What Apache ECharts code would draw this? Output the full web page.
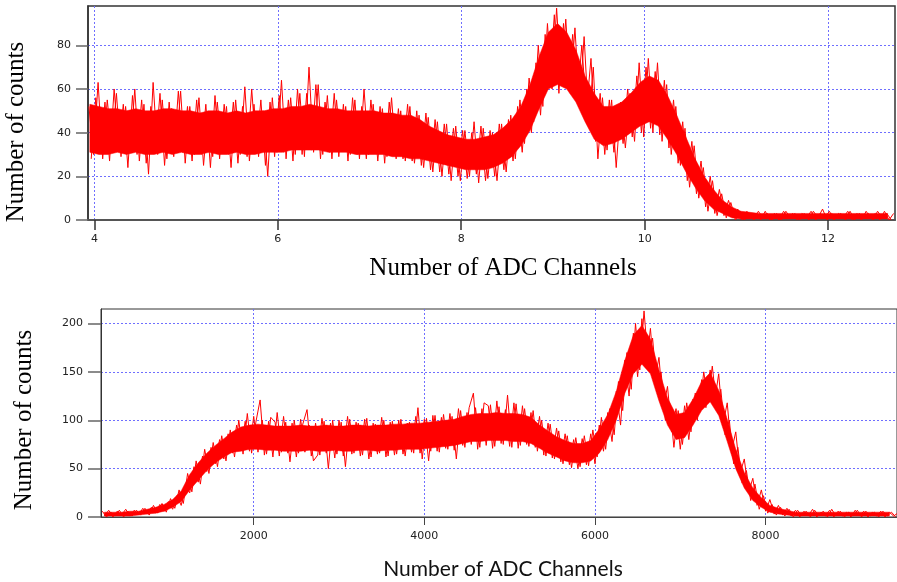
<!DOCTYPE html>
<html>
<head>
<meta charset="utf-8">
<script src="https://cdn.jsdelivr.net/npm/echarts@6/dist/echarts.min.js"></script>
<style>html,body{margin:0;padding:0;background:#fff}#c{width:897px;height:582px}</style>
</head>
<body>
<div id="c"></div>
<script>
// ---------- Top panel data (x in ADC channel units) ----------
const topXTicks = [4, 6, 8, 10, 12];
const topYTicks = [0, 20, 40, 60, 80];
// dense core of the spectrum (x = 3.95 + 0.1*i)
const topBandStart = 3.95, topBandStep = 0.1;
const topCoreLow = [31,30,30,31,30, 31,30,30,31,30, 31,30,30,31,30, 30,31,30,30,31,
  31,31,32,32,32, 32,31,31,31,30, 30,30,30,29,29, 28,28,27,26,25,
  24,23,23,23,24, 26,29,34,41,51, 60,62,60,54,45, 37,34,35,37,40,
  43,45,43,37,30, 22,15,9,5,3, 1,
  0.5,0.5,0.5,0.5,0.5,0.5,0.5,0.5,0.5,0.5,0.5,0.5,0.5,0.5,0.5,0.5,0.5];
const topCoreHigh = [53,52,51,51,50, 51,50,50,51,51, 50,50,49,50,50, 49,50,49,50,50,
  51,51,52,52,53, 52,51,51,50,50, 50,50,49,49,48, 48,46,43,41,39,
  38,37,37,38,39, 42,46,52,62,75, 86,90,86,78,66, 58,52,52,54,58,
  63,66,64,57,48, 38,28,20,14,9, 6,
  4,3.5,3,3,3,3,3,3,3,3,3,3,3,3,3,3,3];
// individual channel counts, even channels (x = 3.94 + 0.05*i)
const topSpikeStart = 3.94, topSpikeStep = 0.05;
const topCounts = [
  52,30,63,28,55,34,58,29,52,31,
  60,27,53,21,63,30,55,28,51,33,
  59,26,52,30,56,25,50,29,54,31,
  52,24,55,30,61,27,53,29,50,20,
  56,31,64,28,56,30,58,29,70,31,
  62,30,57,28,55,32,52,30,55,28,
  60,30,53,27,51,29,56,28,50,27,
  52,26,48,24,47,22,45,20,44,18,
  43,18,41,20,45,17,42,19,40,18,
  44,22,48,28,55,35,65,45,80,52,
  90,60,97,62,92,58,88,52,84,45,
  70,28,56,32,55,24,54,33,58,36,
  72,38,74,40,72,36,62,30,52,25,
  42,15,34,10,24,4,18,2,12,1,
  8,0,4,0,3,0,4,1,3,0,
  3,0,4,1,3,0,3,0,4,1,
  5,0,3,1,3,0,4,0,3,1,
  3,0,4,1,3,0];
// individual channel counts, odd channels (x = 3.965 + 0.05*i)
const topSpike2Start = 3.965;
const topCounts2 = [
  28,56,31,54,27,60,33,53,24,57,
  30,55,26,52,31,58,25,54,29,59,
  31,52,27,55,30,53,24,57,28,53,
  30,54,26,52,29,60,31,55,25,54,
  29,57,31,55,27,60,30,58,32,62,
  28,54,31,58,29,53,27,56,30,52,
  28,55,31,52,26,54,30,51,28,53,
  27,50,25,49,23,46,22,44,21,42,
  20,41,19,40,21,43,18,41,20,44,
  23,46,27,52,31,60,40,72,48,85,
  62,94,58,90,60,85,55,80,50,74,
  36,58,30,55,31,53,35,60,38,66,
  40,70,42,68,39,64,33,55,26,45,
  18,36,12,27,6,20,3,14,2,9,
  1,5,0,4,1,3,0,4,0,3,
  0,4,1,3,0,3,1,4,0,3,
  1,4,0,3,1,4,0,3,0,4,
  1,3,0,4,0,3];

// ---------- Bottom panel data (x in ADC channels) ----------
const botXTicks = [2000, 4000, 6000, 8000];
const botYTicks = [0, 50, 100, 150, 200];
const botBandStart = 250, botBandStep = 100;
const botCoreLow = [1,1,1,1,2,3,4,6,10,16,
  28,38,48,56,62,67,68,70,70,69,
  69,68,68,68,69,68,68,69,68,68,69,69,68,69,69,70,70,70,
  71,72,73,74,76,78,
  78,79,79,79,78,78,
  76,71,66,62,58,56,56,58,
  66,80,100,128,148,158,148,120,95,80,
  82,95,110,119,105,78,50,30,17,10,
  5,3,2,
  1,1,1,1,1,1,1,1,1,1,1,1];
const botCoreHigh = [5,5,5,6,6,8,10,13,18,27,
  44,56,66,74,81,88,93,95,96,95,
  94,94,94,95,94,94,95,94,94,95,95,94,95,95,96,96,97,97,
  98,99,100,101,104,106,
  107,107,108,107,107,106,
  103,95,89,83,79,76,76,79,
  91,106,130,162,188,198,184,152,123,106,
  108,122,140,149,131,101,70,46,30,20,
  12,9,7,
  5,5,5,5,5,5,5,5,5,5,5,5];
const botSpikeStart = 225, botSpikeStep = 50;
const botCounts = [
  6,0,5,1,7,0,6,1,7,2,
  9,2,12,4,14,5,19,9,28,14,
  45,26,58,34,70,45,77,52,84,58,
  90,62,100,65,107,66,98,121,64,99,
  62,108,67,98,57,100,66,96,111,63,
  97,64,99,50,100,65,98,52,101,66,
  97,64,102,62,96,66,100,63,99,65,
  101,63,98,66,113,60,102,68,105,67,
  106,70,104,60,110,72,113,128,70,112,
  74,116,73,114,75,126,72,117,74,112,
  73,110,68,100,63,96,60,89,55,84,
  51,82,52,84,53,90,62,103,70,112,
  85,140,110,170,132,200,152,213,158,185,
  135,150,100,118,72,110,75,118,88,128,
  110,150,120,156,115,132,85,100,55,72,
  35,48,17,34,8,22,4,13,2,10,
  1,8,0,7,1,6,0,7,1,6,
  0,8,1,6,0,5,1,7,0,6,
  1,5,0,6,1,5,0];
const botSpike2Start = 250;
const botCounts2 = [
  1,7,0,6,2,8,1,7,2,9,
  3,10,4,13,6,16,8,22,12,33,
  25,52,36,63,47,72,55,80,60,86,
  66,95,69,99,68,104,67,100,65,103,
  98,63,104,66,97,62,101,67,95,58,
  64,102,66,97,61,100,63,104,65,98,
  63,101,60,97,65,103,62,98,64,100,
  65,97,67,104,66,101,58,105,68,103,
  71,107,69,112,74,108,75,113,72,118,
  115,71,120,76,111,73,118,71,115,75,
  108,72,104,64,97,61,92,57,86,54,
  80,50,81,54,86,55,95,68,108,78,
  130,95,162,125,190,145,205,155,195,140,
  165,112,135,88,112,70,115,80,122,100,
  142,113,152,118,148,95,118,68,88,45,
  60,25,40,12,28,6,18,3,12,2,
  9,1,7,0,6,1,8,0,5,1,
  7,0,6,1,5,0,7,1,6,0,
  5,1,6,0,5,1,4];

function pairs(start, step, vals) {
  return vals.map((v, i) => [+(start + step * i).toFixed(4), v]);
}
function bandSeries(xi, yi, start, step, lo, hi) {
  const n = Math.min(lo.length, hi.length);
  const data = [];
  for (let i = 0; i < n; i++) data.push([+(start + step * i).toFixed(4), lo[i], hi[i]]);
  return {
    type: 'custom', xAxisIndex: xi, yAxisIndex: yi, data: data, silent: true,
    encode: { x: 0, y: [1, 2] }, z: 2, animation: false,
    renderItem: function (params, api) {
      if (params.dataIndex !== 0) return null;
      const pts = [];
      for (let i = 0; i < data.length; i++) pts.push(api.coord([data[i][0], data[i][2]]));
      for (let i = data.length - 1; i >= 0; i--) pts.push(api.coord([data[i][0], data[i][1]]));
      return { type: 'polygon', shape: { points: pts }, style: { fill: '#ff0000', stroke: '#ff0000', lineWidth: 0.5 } };
    }
  };
}
function lineSeries(xi, yi, data) {
  return { type: 'line', xAxisIndex: xi, yAxisIndex: yi, data: data, showSymbol: false, symbol: 'none',
    sampling: null, animation: false, z: 3, lineStyle: { color: '#ff0000', width: 1 }, silent: true };
}

const gridLine = { show: true, lineStyle: { color: '#6f6fff', type: [2, 2], width: 1 } };
const tickFont = { fontFamily: 'DejaVu Sans', fontSize: 11, color: '#222' };
const plain = function (v) { return String(v); };

const chart = echarts.init(document.getElementById('c'), null, { renderer: 'canvas' });
chart.setOption({
  backgroundColor: '#fff',
  animation: false,
  grid: [
    { left: 88, top: 6, width: 807, height: 214, show: true, borderColor: '#333', borderWidth: 1.5, containLabel: false },
    { left: 101, top: 309, width: 800, height: 208, show: true, borderColor: '#333', borderWidth: 1, containLabel: false }
  ],
  xAxis: [
    { type: 'value', gridIndex: 0, min: 3.93, max: 12.73,
      axisLine: { show: true, lineStyle: { color: '#555', width: 2 } },
      axisTick: { show: true, length: 10, customValues: topXTicks, lineStyle: { color: '#333', width: 1.5 } },
      axisLabel: Object.assign({ margin: 14, customValues: topXTicks, formatter: plain }, tickFont),
      splitLine: gridLine },
    { type: 'value', gridIndex: 1, min: 210, max: 9540,
      axisLine: { show: true, lineStyle: { color: '#444', width: 1 } },
      axisTick: { show: true, length: 8, customValues: botXTicks, lineStyle: { color: '#444' } },
      axisLabel: Object.assign({ margin: 14, customValues: botXTicks, formatter: plain }, tickFont),
      splitLine: gridLine }
  ],
  yAxis: [
    { type: 'value', gridIndex: 0, min: 0, max: 98,
      axisLine: { show: true, lineStyle: { color: '#333', width: 1.5 } },
      axisTick: { show: true, length: 12, customValues: topYTicks, lineStyle: { color: '#666', width: 1.5 } },
      axisLabel: Object.assign({ margin: 17, customValues: topYTicks, formatter: plain }, tickFont),
      splitLine: gridLine },
    { type: 'value', gridIndex: 1, min: 0, max: 215,
      axisLine: { show: true, lineStyle: { color: '#333', width: 1 } },
      axisTick: { show: true, length: 13, customValues: botYTicks, lineStyle: { color: '#666', width: 1.5 } },
      axisLabel: Object.assign({ margin: 18, customValues: botYTicks, formatter: plain }, tickFont),
      splitLine: gridLine }
  ],
  series: [
    bandSeries(0, 0, topBandStart, topBandStep, topCoreLow, topCoreHigh),
    lineSeries(0, 0, pairs(topSpikeStart, topSpikeStep, topCounts)),
    lineSeries(0, 0, pairs(topSpike2Start, topSpikeStep, topCounts2)),
    bandSeries(1, 1, botBandStart, botBandStep, botCoreLow, botCoreHigh),
    lineSeries(1, 1, pairs(botSpikeStart, botSpikeStep, botCounts)),
    lineSeries(1, 1, pairs(botSpike2Start, botSpikeStep, botCounts2))
  ],
  graphic: [
    { type: 'text', x: 16, y: 132, rotation: Math.PI / 2,
      style: { text: 'Number of counts', fontFamily: 'Liberation Serif', fontSize: 25, fill: '#000', align: 'center', verticalAlign: 'middle' } },
    { type: 'text', x: 503, y: 268,
      style: { text: 'Number of ADC Channels', fontFamily: 'Liberation Serif', fontSize: 25, fill: '#000', align: 'center', verticalAlign: 'middle' } },
    { type: 'text', x: 24, y: 420, rotation: Math.PI / 2,
      style: { text: 'Number of counts', fontFamily: 'Liberation Serif', fontSize: 25, fill: '#000', align: 'center', verticalAlign: 'middle' } },
    { type: 'text', x: 503, y: 569,
      style: { text: 'Number of ADC Channels', fontFamily: 'Lato', fontSize: 21, fill: '#111', align: 'center', verticalAlign: 'middle' } }
  ]
});
</script>
</body>
</html>
